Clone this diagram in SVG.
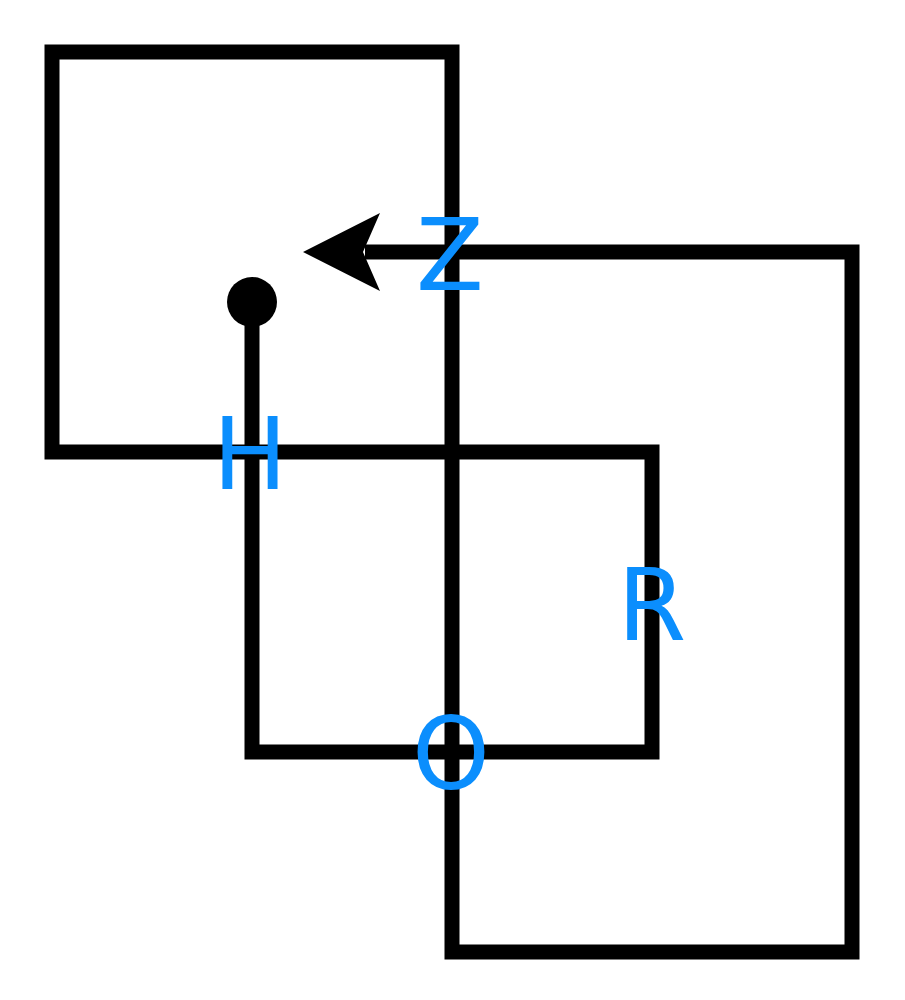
<svg xmlns="http://www.w3.org/2000/svg" width="905" height="1000" viewBox="0 0 905 1000">
<style>
.line{fill:none;stroke:#000;stroke-width:15;stroke-linejoin:miter;stroke-linecap:butt}
.lbl{font-family:"DejaVu Sans",sans-serif;font-size:99px;fill:#0b8efd;text-anchor:middle}
</style>
<rect width="905" height="1000" fill="#fff"/>
<g id="connectors">
<path class="line" d="M252,302 V752 H652 V452 H52 V52 H452 V952 H852 V252 H365"/>
<circle cx="252" cy="302" r="25" fill="#000"/>
<polygon points="303,252 380,213 363,252 380,291" fill="#000"/>
</g>
<g id="Z"><text class="lbl" x="450" y="290">Z</text></g>
<g id="H"><text class="lbl" x="250" y="489">H</text></g>
<g id="R"><text class="lbl" x="652" y="640">R</text></g>
<g id="O"><text class="lbl" x="451" y="789">O</text></g>
</svg>
